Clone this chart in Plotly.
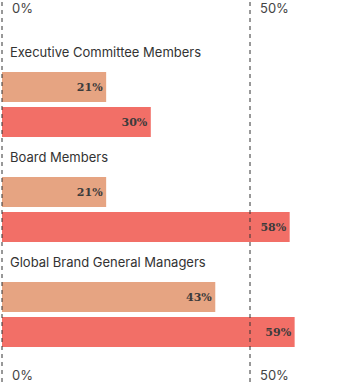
import plotly.graph_objects as go

categories = ["Executive Committee Members", "Board Members", "Global Brand General Managers"]
series_a = [21, 21, 43]
series_b = [30, 58, 59]
tick_vals = [0, 50]
tick_labels = ["0%", "50%"]

color_a = "#E6A482"
color_b = "#F26F67"

W, H = 359, 382
# y positions: group label at 3*i, bars at 3*i+1 and 3*i+2
y_a = [3 * i + 1 for i in range(len(categories))]
y_b = [3 * i + 2 for i in range(len(categories))]
y_lab = [3 * i for i in range(len(categories))]

fig = go.Figure()
for ys, vals, col in [(y_a, series_a, color_a), (y_b, series_b, color_b)]:
    fig.add_trace(go.Bar(
        x=vals, y=ys, orientation="h", width=0.86,
        marker=dict(color=col, line=dict(width=0)),
        text=[f"{v}%" for v in vals],
        textposition="inside", insidetextanchor="end",
        textfont=dict(family="DejaVu Serif", size=11, color="#3b3b3b", weight="bold"),
        cliponaxis=False, hoverinfo="skip",
    ))

# pixel mapping: x=0 at px 2, x=50 at px 250
px_per = 248 / 50
x0 = -2 / px_per
x1 = (W - 2) / px_per
# y: label 0 at px 52, 35px per unit
py_per = 35
ytop = -52 / py_per
ybot = (H - 52) / py_per

for tv in tick_vals:
    fig.add_shape(type="line", x0=tv, x1=tv, xref="x", y0=0, y1=1, yref="paper",
                  line=dict(color="#333333", width=1, dash="4px,4px"), layer="above")

for tv, tl in zip(tick_vals, tick_labels):
    for yy in [ytop + 8 / py_per, ybot - 7 / py_per]:
        fig.add_annotation(x=tv, y=yy, xref="x", yref="y", text=tl, showarrow=False,
                           xanchor="left", xshift=8, yanchor="middle",
                           font=dict(family="Inter", size=13, color="#444444"))

for yl, cat in zip(y_lab, categories):
    fig.add_annotation(x=0, y=yl, xref="x", yref="y", text=cat, showarrow=False,
                       xanchor="left", xshift=6, yanchor="middle",
                       font=dict(family="Inter", size=13, color="#333333"))

fig.update_layout(
    width=W, height=H, margin=dict(l=0, r=0, t=0, b=0),
    paper_bgcolor="white", plot_bgcolor="white", showlegend=False,
    barmode="overlay", uniformtext=dict(mode=False),
    xaxis=dict(range=[x0, x1], visible=False, fixedrange=True),
    yaxis=dict(range=[ybot, ytop], visible=False, fixedrange=True),
)
fig.write_html("out.html", config={"displayModeBar": False},
               post_script="document.body.style.margin='0';document.body.style.overflow='hidden';")
